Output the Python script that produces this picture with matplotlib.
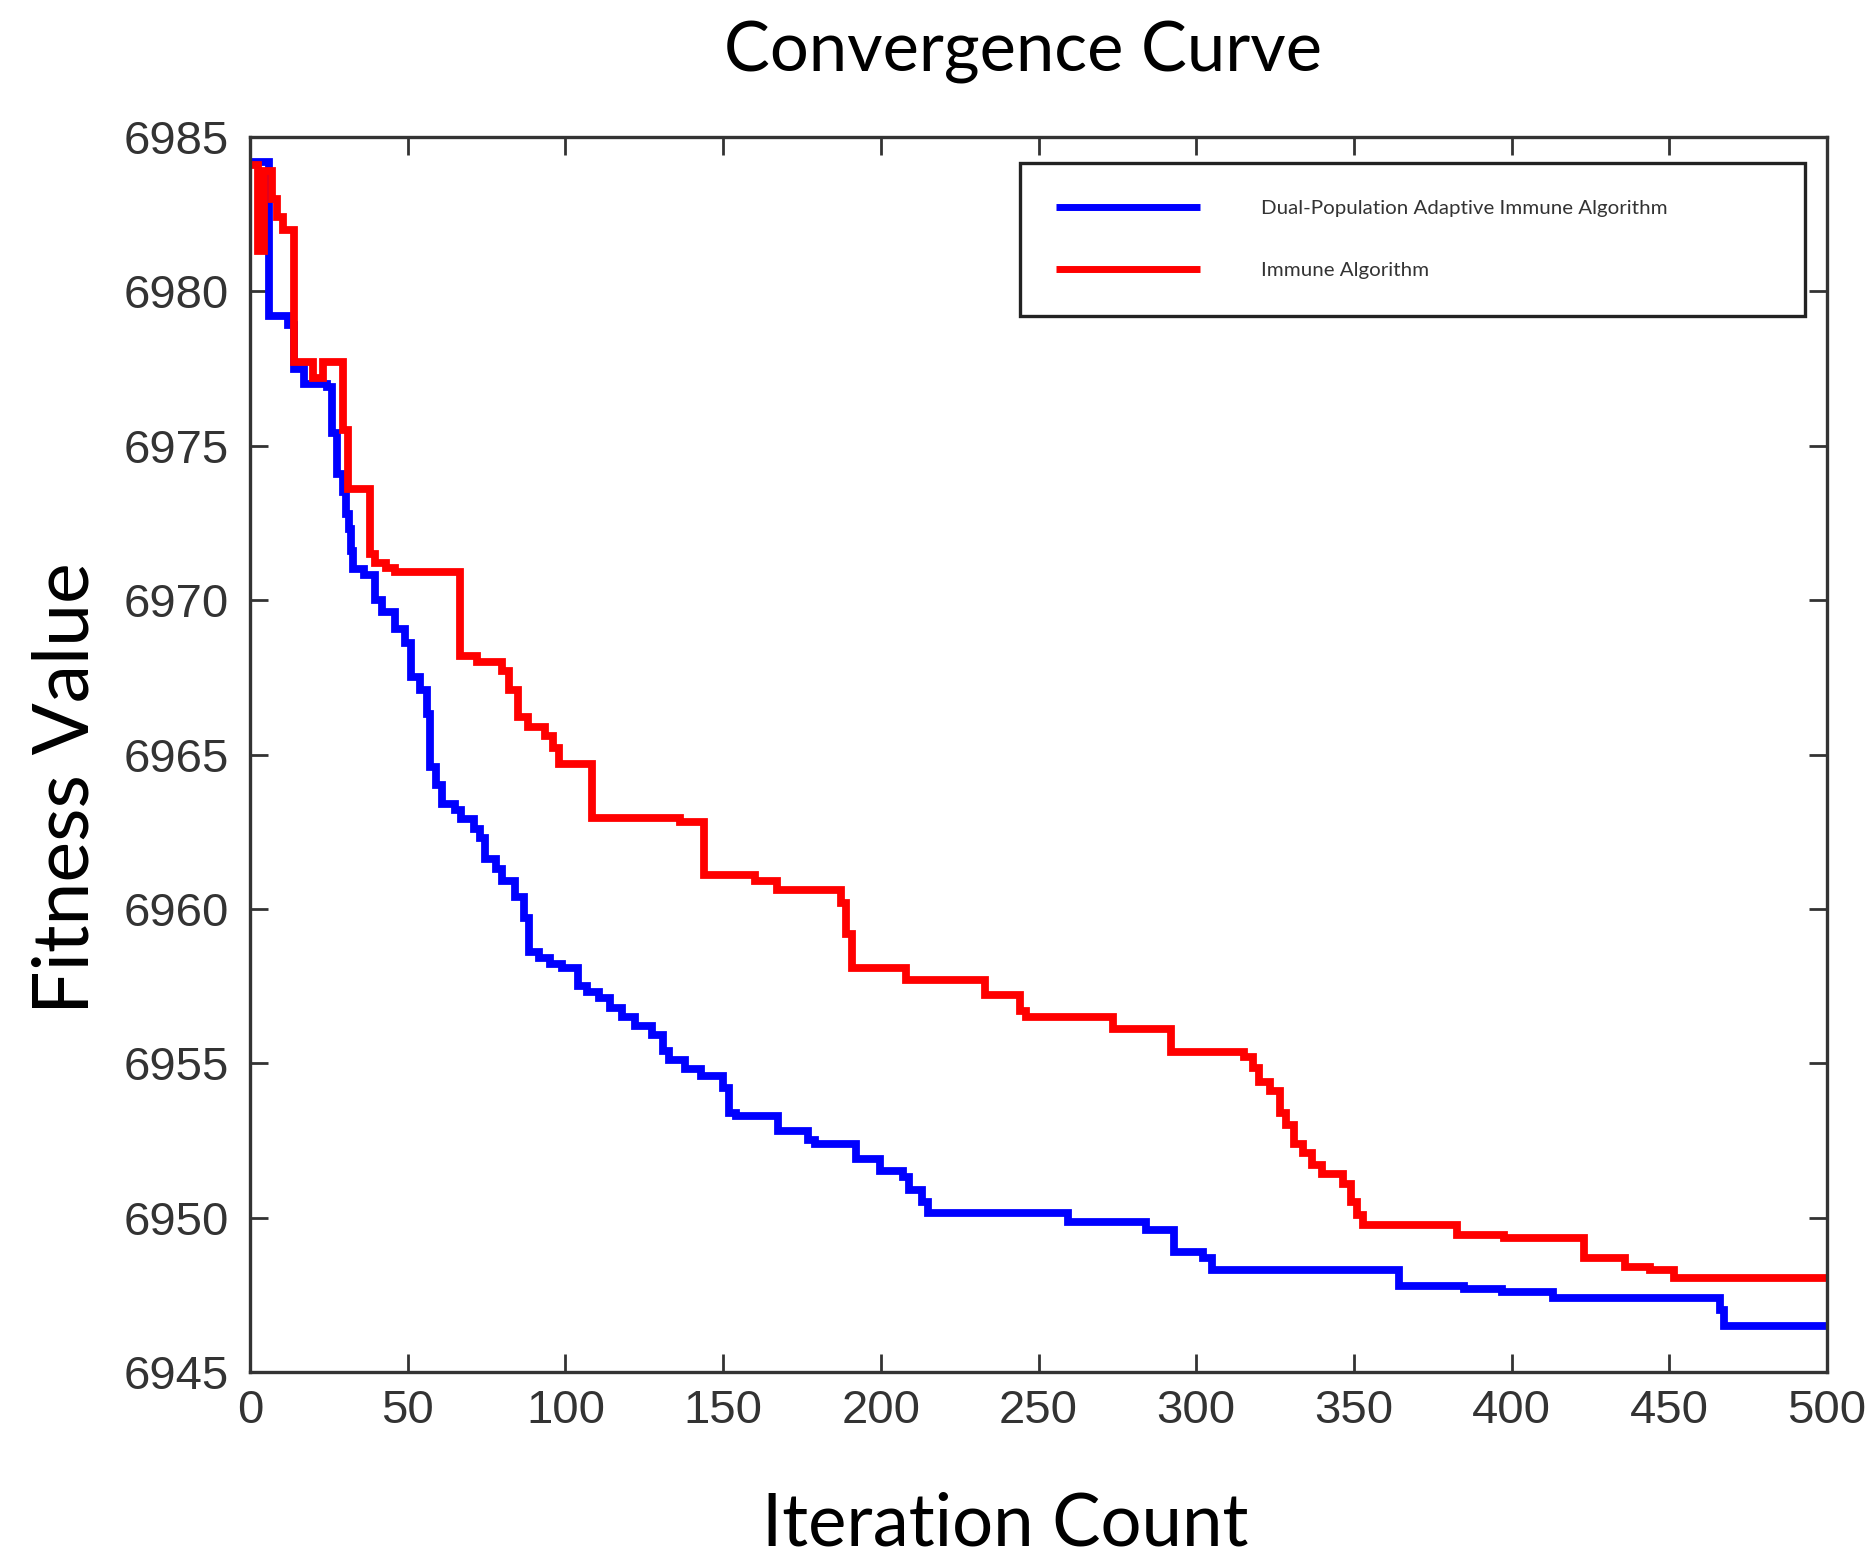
import matplotlib
matplotlib.use('Agg')
import matplotlib.pyplot as plt

# ---------------- data ----------------
iterations_dpaia = [0, 6, 12, 14, 17, 24.4, 26, 27.6, 29.5, 30.5, 31.5, 32, 32.7, 36, 39.5,
                    42, 46, 49, 51, 54, 56, 57, 59, 61, 65, 67, 71, 73, 74.6, 78, 80, 84,
                    87, 88.6, 91.7, 95, 99, 104, 107, 110.6, 114, 118, 122, 127.6, 131,
                    133, 138, 143, 150, 152, 154, 167.4, 177, 179, 192, 199.6, 207, 209,
                    213, 215, 259.5, 284, 293, 302, 305, 364.4, 385, 397, 413, 466, 467.4,
                    500]
fitness_dpaia = [6984.2, 6979.2, 6978.9, 6977.5, 6977.0, 6976.9, 6975.4, 6974.1, 6973.5,
                 6972.8, 6972.3, 6971.6, 6971.0, 6970.8, 6970.0, 6969.6, 6969.05, 6968.6,
                 6967.5, 6967.1, 6966.3, 6964.6, 6964.0, 6963.4, 6963.2, 6962.9, 6962.6,
                 6962.3, 6961.6, 6961.3, 6960.9, 6960.4, 6959.7, 6958.6, 6958.4, 6958.2,
                 6958.1, 6957.5, 6957.3, 6957.1, 6956.8, 6956.5, 6956.2, 6955.9, 6955.4,
                 6955.1, 6954.8, 6954.6, 6954.2, 6953.4, 6953.3, 6952.8, 6952.5, 6952.4,
                 6951.9, 6951.5, 6951.3, 6950.9, 6950.5, 6950.15, 6949.85, 6949.6,
                 6948.9, 6948.7, 6948.3, 6947.8, 6947.7, 6947.6, 6947.4, 6947.0, 6946.5,
                 6946.5]

iterations_ia = [0, 2.5, 4.5, 7, 8.5, 10.5, 13.8, 20, 23, 29.5, 31, 38, 39.5, 43, 46, 66.6,
                 72, 80, 82, 85, 88, 93.5, 96, 98, 108.5, 136.4, 144, 160, 167, 187.5, 189,
                 191, 208, 233, 244, 246, 273.5, 292, 315, 318, 320, 323.5, 326.5, 328.4,
                 331, 334, 336.7, 339.8, 346.6, 349, 351, 353, 382.6, 397.7, 423, 436, 444,
                 451.5, 500]
fitness_ia = [6984.1, 6981.3, 6983.9, 6983.0, 6982.4, 6982.0, 6977.7, 6977.2, 6977.7,
              6975.5, 6973.6, 6971.5, 6971.2, 6971.05, 6970.9, 6968.2, 6968.0, 6967.7,
              6967.1, 6966.2, 6965.9, 6965.6, 6965.2, 6964.7, 6962.95, 6962.8, 6961.1,
              6960.9, 6960.6, 6960.2, 6959.2, 6958.1, 6957.7, 6957.2, 6956.7, 6956.5,
              6956.1, 6955.35, 6955.2, 6954.85, 6954.4, 6954.1, 6953.4, 6953.0, 6952.4,
              6952.1, 6951.7, 6951.4, 6951.1, 6950.5, 6950.1, 6949.75, 6949.45, 6949.35,
              6948.7, 6948.4, 6948.3, 6948.05, 6948.05]

x_ticks = [0, 50, 100, 150, 200, 250, 300, 350, 400, 450, 500]
y_ticks = [6945, 6950, 6955, 6960, 6965, 6970, 6975, 6980, 6985]
series_labels = ['Dual-Population Adaptive Immune Algorithm', 'Immune Algorithm']
title_text = 'Convergence Curve'
xlabel_text = 'Iteration Count'
ylabel_text = 'Fitness Value'

# ---------------- figure ----------------
W, H = 1873, 1564
plt.rcParams['font.family'] = ['Liberation Sans', 'DejaVu Sans']
fig = plt.figure(figsize=(W / 100, H / 100), dpi=100)
ax = fig.add_axes([250 / W, 1 - 1372 / H, 1577 / W, 1235 / H])

ax.step(iterations_dpaia, fitness_dpaia, where='post', color='#0000ff', lw=5.6,
        label=series_labels[0], solid_joinstyle='miter', solid_capstyle='butt')
ax.step(iterations_ia, fitness_ia, where='post', color='#ff0000', lw=5.6,
        label=series_labels[1], solid_joinstyle='miter', solid_capstyle='butt')

ax.set_xlim(0, 500)
ax.set_ylim(6945, 6985)
ax.set_xticks(x_ticks)
ax.set_yticks(y_ticks)
ax.tick_params(direction='in', length=13, width=2, top=True, right=True,
               labelsize=34, labelcolor='#333333', color='#333333')
ax.tick_params(axis='x', pad=12)
ax.tick_params(axis='y', pad=15)
for s in ax.spines.values():
    s.set_linewidth(2.4)
    s.set_color('#333333')

label_font = ['Lato', 'DejaVu Sans']
t_title = fig.text(1023 / W, 1 - 72 / H, title_text, ha='center', va='baseline',
                   fontsize=44, family=label_font, color='black')
t_xl = fig.text(1005 / W, 1 - 1545 / H, xlabel_text, ha='center', va='baseline',
                fontsize=40, family=label_font, color='black')
t_yl = fig.text(103 / W, 1 - 788 / H, ylabel_text, ha='right', va='center', rotation=90,
                fontsize=40, family=label_font, color='black')

renderer = fig.canvas.get_renderer()


def fit(t, target, use_height=False):
    for _ in range(4):
        bb = t.get_window_extent(renderer)
        cur = bb.height if use_height else bb.width
        t.set_fontsize(t.get_fontsize() * target / cur)


fit(t_title, 598)
fit(t_xl, 487)
fit(t_yl, 452, use_height=True)

# legend font size fitted to the long label width
tmp = fig.text(0, 0, series_labels[0], fontsize=14, family=label_font)
fit(tmp, 405)
leg_fs = tmp.get_fontsize()
tmp.remove()
px_per_unit = leg_fs * 100 / 72

leg = ax.legend(loc='upper left', bbox_to_anchor=(0.488, 0.856, 0.498, 0.123),
                mode='expand', borderaxespad=0, fancybox=False, framealpha=1,
                prop={'family': label_font, 'size': leg_fs},
                handlelength=7.0, handletextpad=3.0,
                borderpad=1.5 + 6 / px_per_unit,
                labelspacing=1.8 + 8 / px_per_unit)
leg.get_frame().set_edgecolor('#222222')
leg.get_frame().set_linewidth(2.4)
for ln in leg.get_lines():
    ln.set_linewidth(5)
for txt in leg.get_texts():
    txt.set_color('#333333')

fig.savefig('out.png', dpi=100)
